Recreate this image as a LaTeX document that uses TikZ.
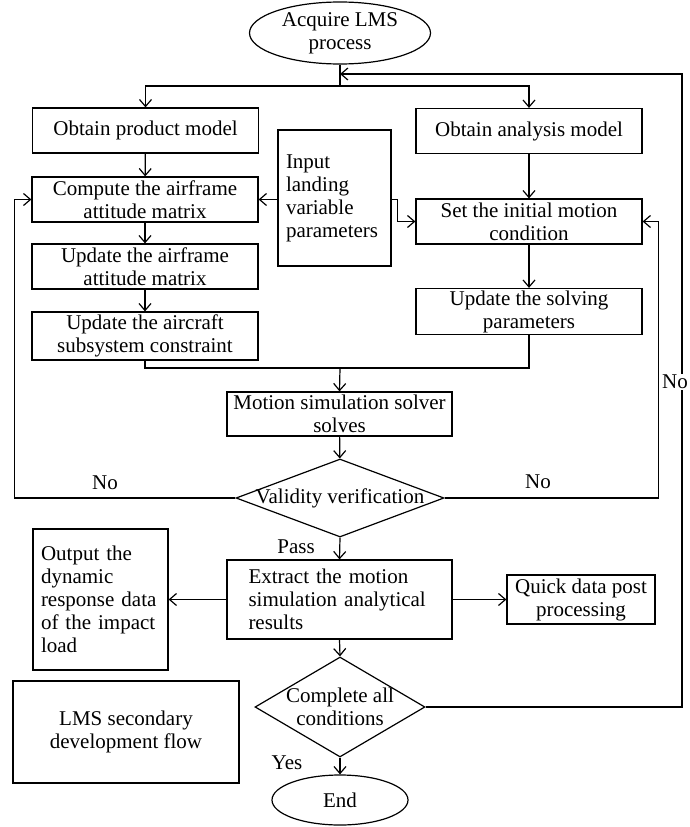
\documentclass[tikz,border=0pt]{standalone}
\usepackage{fontspec}
\setmainfont{Liberation Serif}
\usetikzlibrary{shapes.geometric,arrows.meta}

\tikzset{
  procbox/.style={draw, line width=1.2pt, minimum width=226pt, minimum height=45pt, inner sep=2pt, align=center},
  decision/.style={draw, diamond, line width=1.2pt, inner sep=0pt},
  terminal/.style={draw, ellipse, line width=1.2pt, inner sep=0pt, align=center},
  flow/.style={line width=1.2pt, -{Straight Barb[length=7pt,width=12pt]}},
  plain/.style={line width=1.2pt},
  tag/.style={inner sep=1pt}
}

\begin{document}
\begin{tikzpicture}[x=1pt, y=-1pt, font=\fontsize{21pt}{23pt}\selectfont]
\useasboundingbox (0,0) rectangle (690,827);

\node[terminal, minimum width=181pt, minimum height=62pt] (start) at (340,33) {Acquire LMS\\process};
\node[procbox] (prod) at (145.5,130.5) {Obtain product model};
\node[procbox] (anal) at (529,131) {Obtain analysis model};
\node[draw, line width=1.2pt, minimum width=113pt, minimum height=136pt, text width=97pt, align=left, inner sep=0pt] (input) at (334.5,198) {Input\\landing\\variable\\parameters};
\node[procbox] (comp) at (145,199.5) {Compute the airframe\\attitude matrix};
\node[procbox] (set) at (529,221.5) {Set the initial motion\\condition};
\node[procbox] (upaf) at (145,266.5) {Update the airframe\\attitude matrix};
\node[procbox] (upsolve) at (529,311.5) {Update the solving\\parameters};
\node[procbox, minimum height=48pt] (upac) at (145,336) {Update the aircraft\\subsystem constraint};
\node[procbox, minimum width=225pt, minimum height=44pt] (solver) at (339.5,414) {Motion simulation solver\\solves};
\node[decision, minimum width=208pt, minimum height=78pt, label={center:Validity verification}] (valid) at (340,498) {};
\node[procbox, minimum width=225pt, minimum height=79pt, text width=182pt, align=left] (extract) at (339.5,599.5) {Extract the motion\\simulation analytical\\results};
\node[draw, line width=1.2pt, minimum width=135pt, minimum height=141pt, text width=119pt, align=left, inner sep=0pt] (output) at (100.5,599.5) {Output the\\dynamic\\response data\\of the impact\\load};
\node[procbox, minimum width=148pt, minimum height=49pt] (quick) at (581,599.5) {Quick data post\\processing};
\node[decision, minimum width=170pt, minimum height=100pt, label={[align=center]center:Complete all\\conditions}] (complete) at (340,707) {};
\node[procbox, minimum height=102pt] (lms) at (126,732) {LMS secondary\\development flow};
\node[terminal, minimum width=136pt, minimum height=50pt] (end) at (340,800) {End};

\coordinate (split) at (340,86); % fork below start
\coordinate (back) at (340,74); % return point
\coordinate (merge) at (340,368); % join above solver

\draw[plain] (start.south) -- (split);
\draw[flow] (split) -| (prod.north);
\draw[flow] (split) -| (anal.north);
\draw[flow] (prod) -- (comp);
\draw[flow] (comp) -- (upaf);
\draw[flow] (upaf) -- (upac);
\draw[flow] (anal) -- (set);
\draw[flow] (set) -- (upsolve);
\draw[flow] (input.west |- comp.east) -- (comp.east);
\draw[flow] (input.east |- comp.east) -- ++(6,0) |- (set.west);
\draw[plain] (upac.south) |- (merge) -| (upsolve.south);
\draw[flow] (merge) -- (solver.north);
\draw[flow] (solver) -- (valid);
\draw[flow] (valid.west) -| ([xshift=-17pt]comp.west) -- (comp.west); % retry left
\draw[flow] (valid.east) -| ([xshift=16pt]set.east) -- (set.east); % retry right
\draw[flow] (valid.south) -- (extract.north);
\draw[flow] (extract.west) -- (output.east);
\draw[flow] (extract.east) -- (quick.west);
\draw[flow] (extract.south) -- (complete.north);
\draw[flow] (complete.south) -- (end.north);
\draw[flow] (complete.east) -| ([xshift=342pt]back) -- (back); % next condition

\node[tag] (noleft) at (105,483) {No};
\node[tag] (noright) at (538,482) {No};
\node[tag, fill=white] (noback) at (675,382) {No};
\node[tag] (pass) at (296,547) {Pass};
\node[tag] (yes) at (287,763) {Yes};
\end{tikzpicture}
\end{document}
